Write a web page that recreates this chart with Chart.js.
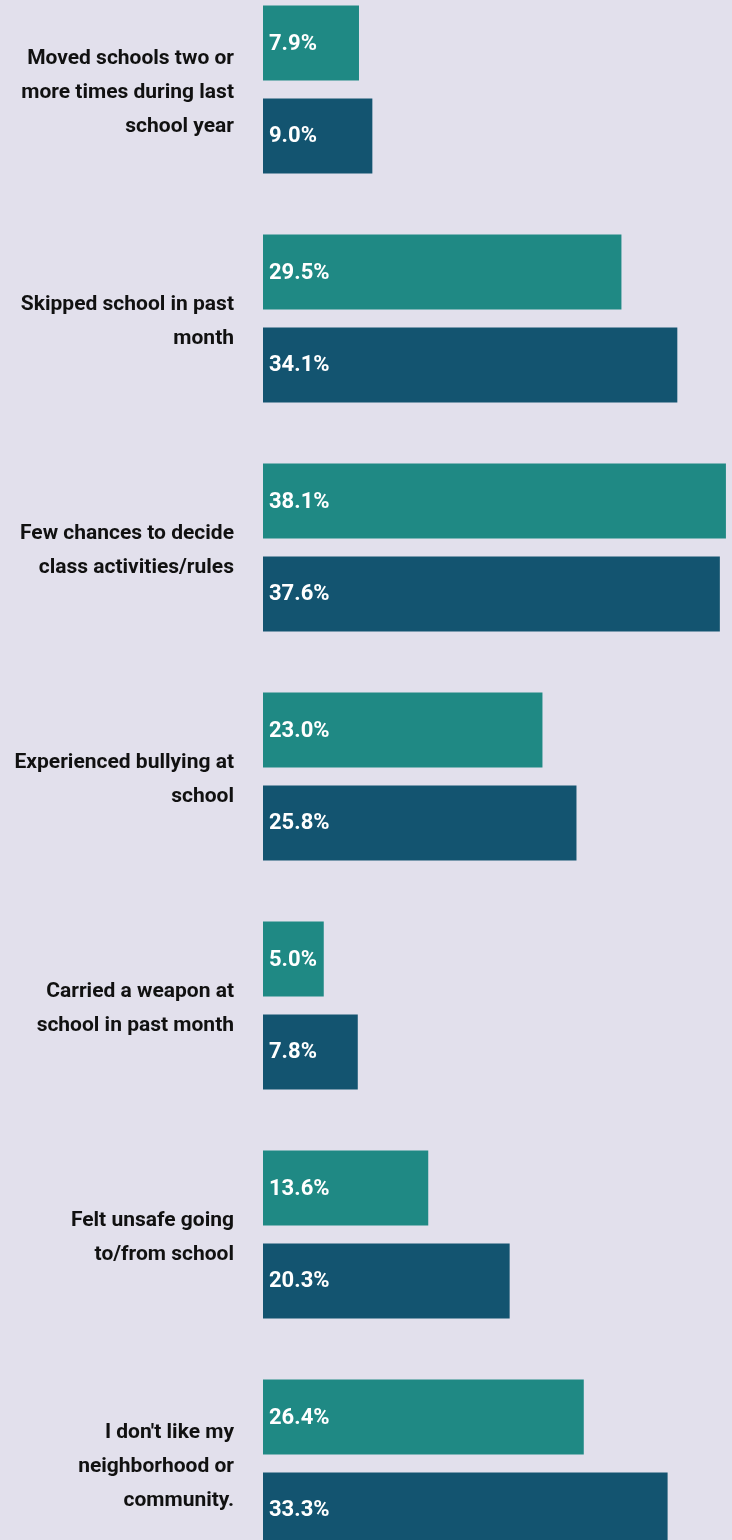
<!DOCTYPE html>
<html>
<head>
<meta charset="utf-8">
<script src="https://cdn.jsdelivr.net/npm/chart.js@4"></script>
<style>
  html, body { margin: 0; padding: 0; width: 732px; height: 1540px; overflow: hidden; background: #e2e0ec; }
  #c { position: absolute; left: 0; top: -25px; }
</style>
</head>
<body>
<canvas id="c" width="732" height="1603"></canvas>
<script>
const categories = [
  ["Moved schools two or", "more times during last", "school year"],
  ["Skipped school in past", "month"],
  ["Few chances to decide", "class activities/rules"],
  ["Experienced bullying at", "school"],
  ["Carried a weapon at", "school in past month"],
  ["Felt unsafe going", "to/from school"],
  ["I don't like my", "neighborhood or", "community."]
];
const seriesA = [7.9, 29.5, 38.1, 23.0, 5.0, 13.6, 26.4];
const seriesB = [9.0, 34.1, 37.6, 25.8, 7.8, 20.3, 33.3];
const colorA = "#1f8984";
const colorB = "#135470";
const FONT = "'Liberation Sans Narrow', 'Arial Narrow', 'Roboto', sans-serif";

const valueLabels = {
  id: 'valueLabels',
  afterDatasetsDraw(chart) {
    const ctx = chart.ctx;
    ctx.save();
    ctx.fillStyle = '#ffffff';
    ctx.font = "bold 22px " + FONT;
    ctx.textAlign = 'left';
    ctx.textBaseline = 'middle';
    chart.data.datasets.forEach((ds, i) => {
      const meta = chart.getDatasetMeta(i);
      meta.data.forEach((bar, j) => {
        ctx.fillText(ds.data[j].toFixed(1) + '%', bar.base + 6, bar.y + 1);
      });
    });
    ctx.restore();
  }
};

new Chart(document.getElementById('c'), {
  type: 'bar',
  data: {
    labels: categories,
    datasets: [
      { data: seriesA, backgroundColor: colorA, categoryPercentage: 0.812, barPercentage: 0.806 },
      { data: seriesB, backgroundColor: colorB, categoryPercentage: 0.812, barPercentage: 0.806 }
    ]
  },
  options: {
    indexAxis: 'y',
    responsive: false,
    animation: false,
    layout: { padding: 0 },
    plugins: { legend: { display: false }, tooltip: { enabled: false } },
    scales: {
      x: { display: false, min: 0, max: 38.6 },
      y: {
        grid: { display: false, drawTicks: false },
        border: { display: false },
        ticks: {
          color: '#111111',
          padding: 29,
          labelOffset: 3,
          font: { family: FONT, weight: 'bold', size: 21, lineHeight: '34px' }
        },
        afterFit(scale) {
          scale.width = 263;
          scale.paddingTop = 0;
          scale.paddingBottom = 0;
        }
      }
    }
  },
  plugins: [valueLabels]
});
</script>
</body>
</html>
